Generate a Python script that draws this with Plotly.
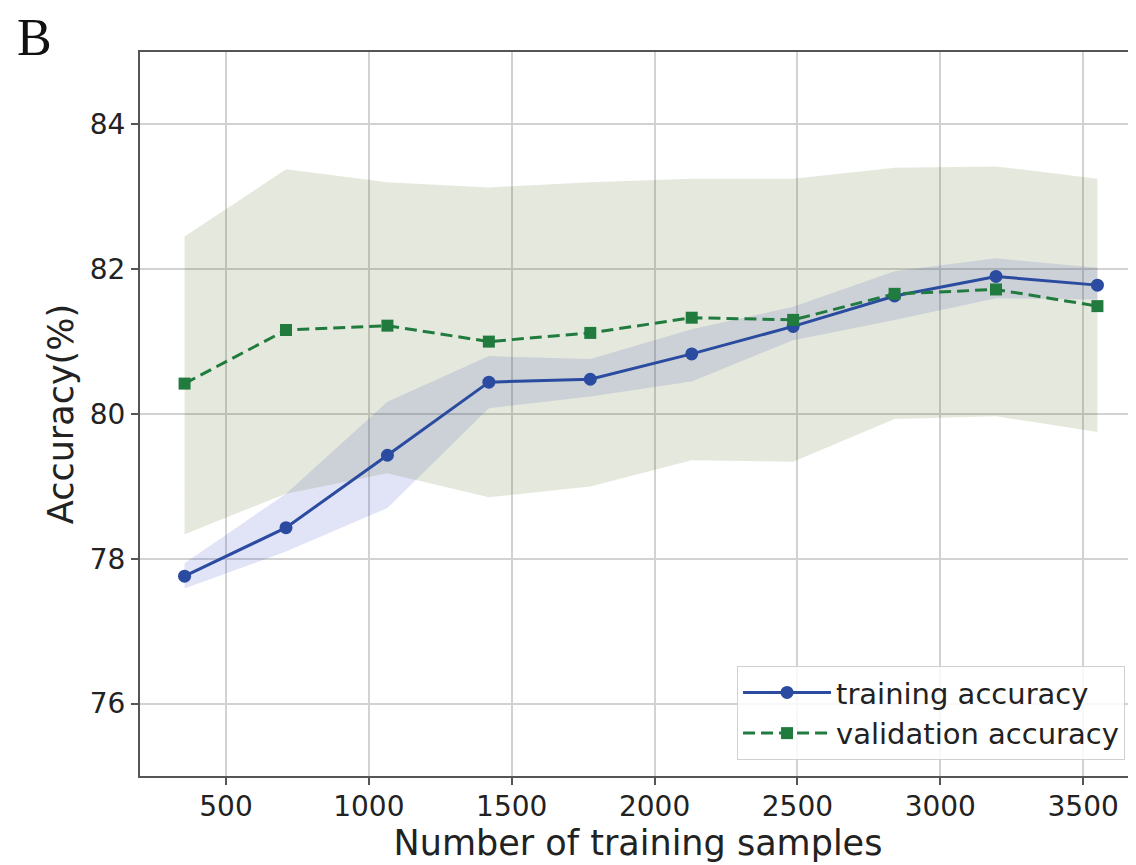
import plotly.graph_objects as go

train_sizes = [355, 710, 1065, 1420, 1775, 2130, 2485, 2840, 3195, 3550]
train_mean = [77.76, 78.43, 79.43, 80.44, 80.48, 80.83, 81.21, 81.63, 81.90, 81.78]
train_upper = [77.94, 78.90, 80.17, 80.80, 80.76, 81.17, 81.48, 81.97, 82.15, 82.02]
train_lower = [77.59, 78.10, 78.70, 80.08, 80.24, 80.45, 81.02, 81.30, 81.60, 81.58]
val_mean = [80.42, 81.16, 81.22, 81.00, 81.12, 81.33, 81.30, 81.66, 81.72, 81.49]
val_upper = [82.45, 83.38, 83.20, 83.13, 83.20, 83.25, 83.25, 83.40, 83.42, 83.25]
val_lower = [78.34, 78.90, 79.18, 78.85, 79.00, 79.36, 79.34, 79.93, 79.97, 79.75]

x_ticks = [500, 1000, 1500, 2000, 2500, 3000, 3500]
y_ticks = [76, 78, 80, 82, 84]

BLUE = "#2a4b9f"
GREEN = "#217b3e"
FONT = "DejaVu Sans"

fig = go.Figure()

fig.add_trace(go.Scatter(
    x=train_sizes + train_sizes[::-1],
    y=train_upper + train_lower[::-1],
    fill="toself", fillcolor="rgba(40,60,200,0.14)",
    line=dict(width=0), mode="lines", hoverinfo="skip", showlegend=False))
fig.add_trace(go.Scatter(
    x=train_sizes + train_sizes[::-1],
    y=val_upper + val_lower[::-1],
    fill="toself", fillcolor="rgba(80,110,30,0.15)",
    line=dict(width=0), mode="lines", hoverinfo="skip", showlegend=False))

fig.add_trace(go.Scatter(
    x=train_sizes, y=train_mean, mode="lines+markers", name="training accuracy",
    line=dict(color=BLUE, width=3),
    marker=dict(symbol="circle", size=13, color=BLUE)))
fig.add_trace(go.Scatter(
    x=train_sizes, y=val_mean, mode="lines+markers", name="validation accuracy",
    line=dict(color=GREEN, width=3, dash="12px,6px"),
    marker=dict(symbol="square", size=12, color=GREEN)))

axis_common = dict(
    showgrid=True, gridcolor="#d2d2d2", gridwidth=1.6,
    showline=True, linecolor="#555555", linewidth=2,
    ticks="outside", ticklen=7, tickwidth=1.5, tickcolor="#555555",
    tickfont=dict(family=FONT, size=28, color="#222222"),
    zeroline=False,
)

fig.update_xaxes(
    range=[199, 3685], tickvals=x_ticks, ticktext=[str(v) for v in x_ticks],
    mirror=True, ticklabelstandoff=-3,
    title=dict(text="Number of training samples", standoff=0,
               font=dict(family=FONT, size=35, color="#222222")),
    **axis_common)
fig.update_yaxes(
    range=[75, 85], tickvals=y_ticks, ticktext=[str(v) for v in y_ticks],
    mirror=False,
    title=dict(text="Accuracy(%)", standoff=6,
               font=dict(family=FONT, size=35, color="#222222")),
    **axis_common)

fig.add_annotation(
    text="B", xref="paper", yref="paper", x=-0.124, y=1.0605,
    xanchor="left", yanchor="top", showarrow=False, borderpad=0,
    font=dict(family="Liberation Serif", size=52, color="#111111"))

fig.update_layout(
    width=1128, height=857,
    margin=dict(l=132, r=0, t=44, b=89),
    plot_bgcolor="white", paper_bgcolor="white",
    legend=dict(
        x=0.989, y=0.022, xanchor="right", yanchor="bottom",
        bgcolor="rgba(255,255,255,0.85)", bordercolor="#d0d0d0", borderwidth=1,
        font=dict(family=FONT, size=29, color="#222222"),
        itemwidth=88),
)

fig.write_html("out.html")
